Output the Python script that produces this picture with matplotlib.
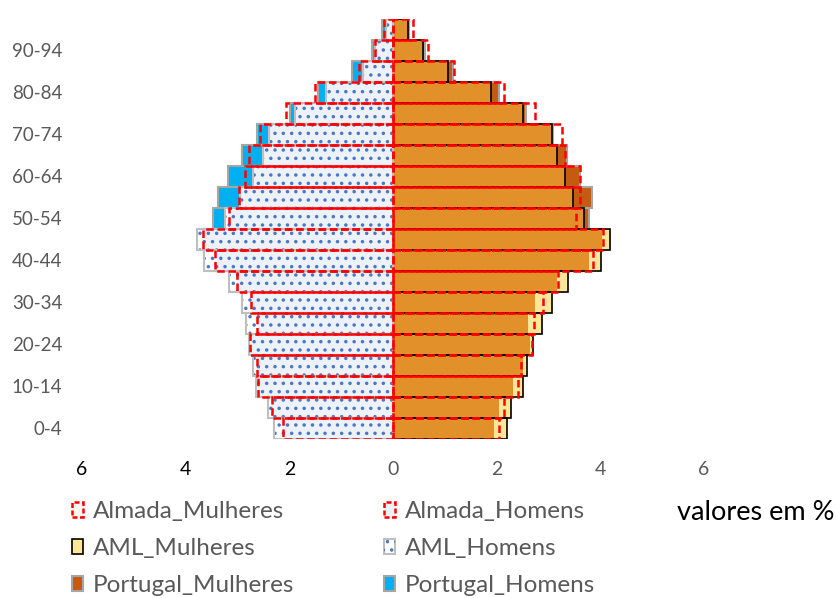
import numpy as np
import matplotlib
matplotlib.use('Agg')
import matplotlib.pyplot as plt
from matplotlib.patches import Patch
from matplotlib.legend_handler import HandlerTuple

plt.rcParams['font.family'] = ['Lato', 'DejaVu Sans']
plt.rcParams['hatch.color'] = '#4a78c6'
plt.rcParams['hatch.linewidth'] = 1.3

# Grupos etarios (de baixo para cima)
idades = ['0-4', '5-9', '10-14', '15-19', '20-24', '25-29', '30-34', '35-39',
          '40-44', '45-49', '50-54', '55-59', '60-64', '65-69', '70-74',
          '75-79', '80-84', '85-89', '90-94', '95+']

# valores em % da populacao total
almada_mulheres = [2.05, 2.14, 2.42, 2.47, 2.68, 2.72, 2.89, 3.19, 3.86, 4.05,
                   3.53, 3.61, 3.60, 3.32, 3.27, 2.74, 2.14, 1.18, 0.68, 0.39]
aml_mulheres = [2.19, 2.28, 2.50, 2.59, 2.71, 2.88, 3.06, 3.37, 4.02, 4.19,
                3.68, 3.48, 3.31, 3.16, 3.06, 2.50, 1.89, 1.07, 0.58, 0.29]
portugal_mulheres = [1.94, 2.05, 2.32, 2.50, 2.64, 2.61, 2.74, 3.16, 3.79, 4.03,
                     3.79, 3.84, 3.61, 3.35, 3.09, 2.56, 2.05, 1.16, 0.62, 0.30]

almada_homens = [2.13, 2.34, 2.60, 2.63, 2.76, 2.63, 2.73, 3.01, 3.44, 3.67,
                 3.16, 2.98, 2.86, 2.77, 2.57, 2.07, 1.51, 0.66, 0.35, 0.18]
aml_homens = [2.30, 2.41, 2.65, 2.71, 2.77, 2.84, 2.92, 3.16, 3.65, 3.78,
              3.24, 2.95, 2.70, 2.50, 2.39, 1.89, 1.30, 0.57, 0.35, 0.13]
portugal_homens = [2.03, 2.15, 2.42, 2.60, 2.70, 2.62, 2.70, 3.05, 3.55, 3.75,
                   3.47, 3.38, 3.19, 2.92, 2.62, 1.99, 1.44, 0.80, 0.41, 0.21]

x_ticks = [-6, -4, -2, 0, 2, 4, 6]

# cores
c_pt_m = '#c55a11'
c_pt_h = '#00b0f0'
c_aml_m = '#ffe699'
c_sobrep = '#e1902a'
c_tint = '#edf2f9'
c_red = '#ff0000'
c_gray = '#a6a6a6'

y = np.arange(len(idades))
am_m = np.array(almada_mulheres)
aml_m = np.array(aml_mulheres)
pt_m = np.array(portugal_mulheres)
am_h = np.array(almada_homens)
aml_h = np.array(aml_homens)
pt_h = np.array(portugal_homens)

fig = plt.figure(figsize=(8.37, 5.98), dpi=100)
ax = fig.add_axes([82 / 837, 1 - 438.5 / 598, 622 / 837, 420 / 598])

red_dash = (0, (3, 1.5))

# Mulheres (direita)
ax.barh(y, pt_m, height=1.0, color=c_pt_m, edgecolor=c_gray, linewidth=1.5, zorder=1)
ax.barh(y, aml_m, height=1.0, color=c_aml_m, linewidth=0, zorder=2)
ax.barh(y, np.minimum(aml_m, pt_m), height=1.0, color=c_sobrep, linewidth=0, zorder=3)
ax.barh(y, aml_m, height=1.0, fill=False, edgecolor='black', linewidth=1.2, zorder=4)
ax.barh(y, am_m, height=1.0, fill=False, edgecolor=c_red, linewidth=1.8,
        linestyle=red_dash, zorder=6)

# Homens (esquerda)
ax.barh(y, -pt_h, height=1.0, color=c_pt_h, edgecolor=c_gray, linewidth=1.5, zorder=1)
ax.barh(y, -aml_h, height=1.0, color='white', linewidth=0, zorder=2)
ax.barh(y, -np.minimum(aml_h, am_h), height=1.0, color=c_tint, linewidth=0, zorder=3)
ax.barh(y, -aml_h, height=1.0, facecolor='none', edgecolor=None, linewidth=0,
        hatch='..', zorder=4)
ax.barh(y, -aml_h, height=1.0, fill=False, edgecolor='#bfbfbf', linewidth=1.5, zorder=5)
ax.barh(y, -am_h, height=1.0, fill=False, edgecolor=c_red, linewidth=1.8,
        linestyle=red_dash, zorder=6)

ax.set_xlim(-6, 6)
ax.set_ylim(-0.5, len(idades) - 0.5)
for s in ax.spines.values():
    s.set_visible(False)

ax.set_yticks(y[::2])
ax.set_yticklabels(idades[::2], fontsize=13.5, color='#595959')
ax.tick_params(axis='y', length=0, pad=14)

ax.set_xticks(x_ticks)
ax.set_xticklabels([str(abs(v)) for v in x_ticks], fontsize=14)
ax.tick_params(axis='x', length=0, pad=16)
for lab, v in zip(ax.get_xticklabels(), x_ticks):
    lab.set_color('black' if v < 0 else '#595959')

# legenda
h_almada_m = Patch(facecolor='#fdf7f4', edgecolor=c_red, linewidth=1.8, linestyle=(0, (2, 1)))
h_aml_m = Patch(facecolor=c_aml_m, edgecolor='black', linewidth=1.2)
h_pt_m = Patch(facecolor=c_pt_m, edgecolor=c_gray, linewidth=1.5)
h_almada_h = Patch(facecolor=c_tint, edgecolor=c_red, linewidth=1.8, linestyle=(0, (2, 1)))
h_aml_h = (Patch(facecolor='white', edgecolor='#bfbfbf', linewidth=1.5),
           Patch(facecolor='none', edgecolor=None, linewidth=0, hatch='..'))
h_pt_h = Patch(facecolor=c_pt_h, edgecolor=c_gray, linewidth=1.5)

leg = fig.legend([h_almada_m, h_aml_m, h_pt_m, h_almada_h, h_aml_h, h_pt_h],
                 ['Almada_Mulheres', 'AML_Mulheres', 'Portugal_Mulheres',
                  'Almada_Homens', 'AML_Homens', 'Portugal_Homens'],
                 ncol=2, loc='upper left', bbox_to_anchor=(72 / 837, 1 - 501 / 598),
                 frameon=False, fontsize=17.5, handlelength=0.45, handleheight=0.58,
                 handletextpad=0.4, columnspacing=3.7, labelspacing=0.66,
                 borderpad=0, borderaxespad=0,
                 handler_map={tuple: HandlerTuple(ndivide=1, pad=0)})
for t in leg.get_texts():
    t.set_color('#595959')

fig.text(677 / 837, 1 - 512 / 598, 'valores em %', fontsize=19.5, color='black', va='center')

fig.savefig('out.png', dpi=100)
